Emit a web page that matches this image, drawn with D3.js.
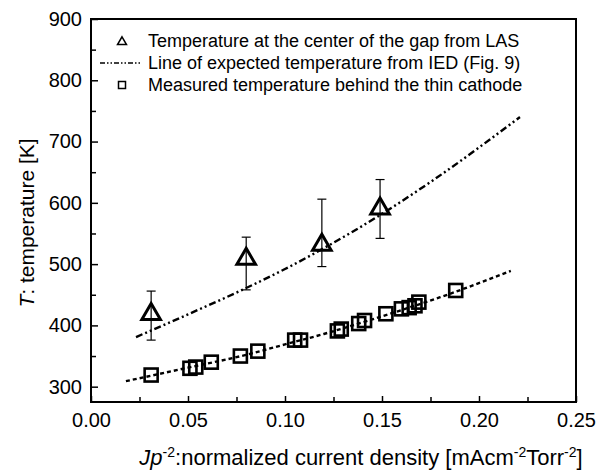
<!DOCTYPE html>
<html><head><meta charset="utf-8">
<script src="https://cdn.jsdelivr.net/npm/d3@7"></script>
<style>body{margin:0;background:#fff}svg{display:block}text{font-family:"Liberation Sans",Arial,sans-serif;fill:#000}</style>
</head><body><svg id="c" width="604" height="470"></svg>
<script>
// LAS triangles
const lasX = [0.031, 0.080, 0.119, 0.149];
const lasT = [420, 510, 533, 592];
const lasLow = [376, 458, 496, 542];
const lasHigh = [456, 544, 606, 638];
// IED expected line
const iedX = [0.0232, 0.05, 0.08, 0.10, 0.12, 0.15, 0.175, 0.2211];
const iedT = [381, 418, 461, 492, 526, 582, 634, 740];
// Measured squares
const sqX = [0.031, 0.051, 0.054, 0.062, 0.077, 0.086, 0.105, 0.108, 0.127, 0.129, 0.138, 0.141, 0.152, 0.160, 0.164, 0.167, 0.169, 0.188];
const sqT = [319, 330, 332, 340, 350, 358, 376, 376, 391, 394, 403, 408, 419, 427, 429, 432, 438, 457];
// Fit line for squares
const fitX = [0.018, 0.05, 0.08, 0.10, 0.12, 0.14, 0.16, 0.18, 0.2164];
const fitT = [309, 331, 352, 369, 386, 405, 425, 446, 489];
const xTicks = [0, 0.05, 0.10, 0.15, 0.20, 0.25];
const yTicks = [300, 400, 500, 600, 700, 800, 900];
const legendLabels = ["Temperature at the center of the gap from LAS", "Line of expected temperature from IED (Fig. 9)", "Measured temperature behind the thin cathode"];

const svg = d3.select("#c");
const L = 91, R = 576, T = 19, B = 402;
const x = d3.scaleLinear().domain([0, 0.25]).range([L, R]);
const y = d3.scaleLinear().domain([275, 900]).range([B, T]);

// frame
svg.append("rect").attr("x", L).attr("y", T).attr("width", R - L).attr("height", B - T)
  .attr("fill", "none").attr("stroke", "#000").attr("stroke-width", 2);

// axes
const ax = svg.append("g").attr("transform", `translate(0,${B})`)
  .call(d3.axisBottom(x).tickValues(xTicks).tickFormat(d3.format(".2f")).tickSizeInner(-6).tickSizeOuter(0).tickPadding(11));
ax.select(".domain").remove();
ax.selectAll("line").attr("stroke-width", 1.5);
ax.selectAll("text").attr("font-size", 20);
const axm = svg.append("g").attr("transform", `translate(0,${B})`)
  .call(d3.axisBottom(x).tickValues([0.025,0.075,0.125,0.175,0.225]).tickFormat("").tickSizeInner(-5).tickSizeOuter(0));
axm.select(".domain").remove();
axm.selectAll("line").attr("stroke-width", 1.5);

const ay = svg.append("g").attr("transform", `translate(${L},0)`)
  .call(d3.axisLeft(y).tickValues(yTicks).tickSizeInner(-7).tickSizeOuter(0).tickPadding(9));
ay.select(".domain").remove();
ay.selectAll("line").attr("stroke-width", 1.5);
ay.selectAll("text").attr("font-size", 20);
const aym = svg.append("g").attr("transform", `translate(${L},0)`)
  .call(d3.axisLeft(y).tickValues([350,450,550,650,750,850]).tickFormat("").tickSizeInner(-5).tickSizeOuter(0));
aym.select(".domain").remove();
aym.selectAll("line").attr("stroke-width", 1.5);

// axis titles
const yt = svg.append("text").attr("transform", `translate(34,223) rotate(-90)`)
  .attr("text-anchor", "middle").attr("font-size", 21);
yt.append("tspan").attr("font-style", "italic").text("T");
yt.append("tspan").text(": temperature [K]");

const xt = svg.append("text").attr("x", 361).attr("y", 465).attr("text-anchor", "middle").attr("font-size", 22);
xt.append("tspan").attr("font-style", "italic").text("Jp");
xt.append("tspan").attr("font-size", 14).attr("dy", -8).text("-2");
xt.append("tspan").attr("dy", 8).text(":normalized current density [mAcm");
xt.append("tspan").attr("font-size", 14).attr("dy", -8).text("-2");
xt.append("tspan").attr("dy", 8).text("Torr");
xt.append("tspan").attr("font-size", 14).attr("dy", -8).text("-2");
xt.append("tspan").attr("dy", 8).text("]");

// lines
const line = d3.line().x(d => x(d[0])).y(d => y(d[1])).curve(d3.curveMonotoneX);
svg.append("path").attr("d", line(iedX.map((v, i) => [v, iedT[i]])))
  .attr("fill", "none").attr("stroke", "#000").attr("stroke-width", 2.4).attr("stroke-dasharray", "7,3,2,3,2,3");
svg.append("path").attr("d", line(fitX.map((v, i) => [v, fitT[i]])))
  .attr("fill", "none").attr("stroke", "#000").attr("stroke-width", 2.4).attr("stroke-dasharray", "4,3");

// error bars
lasX.forEach((v, i) => {
  const g = svg.append("g").attr("stroke", "#000").attr("stroke-width", 1.2);
  g.append("line").attr("x1", x(v)).attr("x2", x(v)).attr("y1", y(lasLow[i])).attr("y2", y(lasHigh[i]));
  g.append("line").attr("x1", x(v) - 4.5).attr("x2", x(v) + 4.5).attr("y1", y(lasLow[i])).attr("y2", y(lasLow[i]));
  g.append("line").attr("x1", x(v) - 4.5).attr("x2", x(v) + 4.5).attr("y1", y(lasHigh[i])).attr("y2", y(lasHigh[i]));
});

// triangles
const tri = d3.symbol().type(d3.symbolTriangle).size(150);
svg.selectAll(".tri").data(lasX).enter().append("path")
  .attr("d", tri).attr("transform", (d, i) => `translate(${x(d)},${y(lasT[i]) + 1})`)
  .attr("fill", "none").attr("stroke", "#000").attr("stroke-width", 3);

// squares
svg.selectAll(".sq").data(sqX).enter().append("rect")
  .attr("x", d => x(d) - 6.5).attr("y", (d, i) => y(sqT[i]) - 6.5).attr("width", 13).attr("height", 13)
  .attr("fill", "none").attr("stroke", "#000").attr("stroke-width", 2.6);

// legend
const lg = svg.append("g");
const ly = [41, 63, 85];
lg.append("path").attr("d", d3.symbol().type(d3.symbolTriangle).size(35)())
  .attr("transform", `translate(122,${ly[0] + 1})`).attr("fill", "none").attr("stroke", "#000").attr("stroke-width", 1.5);
lg.append("line").attr("x1", 100).attr("x2", 142).attr("y1", ly[1]).attr("y2", ly[1])
  .attr("stroke", "#000").attr("stroke-width", 1.6).attr("stroke-dasharray", "5,2,1.5,2,1.5,2");
lg.append("rect").attr("x", 118.5).attr("y", ly[2] - 3.5).attr("width", 7).attr("height", 7)
  .attr("fill", "none").attr("stroke", "#000").attr("stroke-width", 1.5);
legendLabels.forEach((t, i) => {
  lg.append("text").attr("x", 148).attr("y", ly[i]).attr("dy", "0.35em").attr("font-size", 18).text(t);
});
</script></body></html>
